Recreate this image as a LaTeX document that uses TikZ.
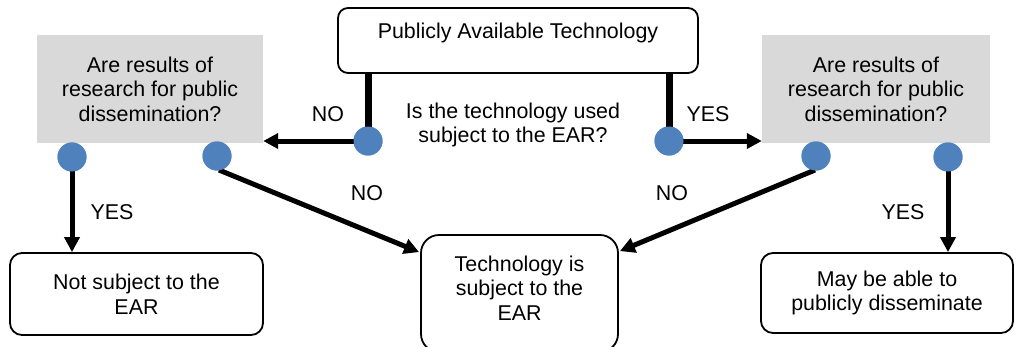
\documentclass[tikz,border=0pt]{standalone}
\usepackage{fontspec}
\setmainfont{Liberation Sans}
\usetikzlibrary{arrows.meta,calc}
\definecolor{dotblue}{HTML}{4F81BD}
\definecolor{qgray}{HTML}{D9D9D9}
\tikzset{
  txt/.style={align=center,inner sep=0pt,font=\fontsize{21.4}{24.5}\selectfont},
  outbox/.style={draw=black,line width=1.8pt,fill=white,rounded corners=#1,inner sep=0pt},
  outbox/.default=12pt,
  qbox/.style={fill=qgray,draw=none,inner sep=0pt,txt},
  dot/.style={circle,fill=dotblue,draw=none,minimum size=29pt,inner sep=0pt},
  stem/.style={line width=7pt},
  arr/.style={line width=5pt,-{Triangle[length=15pt,width=15pt]}},
}
\begin{document}
\begin{tikzpicture}[x=1pt,y=-1pt]
\useasboundingbox (0,0) rectangle (1026,346);
\clip (0,0) rectangle (1026,346);

% top question box
\node[outbox=10pt,minimum width=360pt,minimum height=65pt] (top) at (518,40.5) {};
\node[txt] (topT) at (518,33) {Publicly Available Technology};
\node[txt] (ask) at (513,125) {Is the technology used\\subject to the EAR?};

% grey research questions
\node[qbox,minimum width=226pt,minimum height=108pt] (qL) at (150,89)
  {Are results of\\research for public\\dissemination?};
\node[qbox,minimum width=228pt,minimum height=108pt] (qR) at (876,89)
  {Are results of\\research for public\\dissemination?};

% outcome boxes
\node[outbox,minimum width=253pt,minimum height=82pt,txt] (bL) at (136.5,294)
  {Not subject to the\\EAR};
\node[outbox=18pt,minimum width=197pt,minimum height=117pt] (bM) at (519.5,293.5) {};
\node[txt] (bMT) at (519.5,288) {Technology is\\subject to the\\EAR};
\node[outbox,minimum width=252pt,minimum height=80pt,txt] (bR) at (887,293)
  {May be able to\\publicly disseminate};

% decision dots
\coordinate (cTLc) at (368,141);
\coordinate (cTRc) at (669,141);
\node[dot] (cTL) at (cTLc) {};
\node[dot] (cTR) at (cTRc) {};
\node[dot] (cL1) at (72,157) {};
\node[dot] (cL2) at (217,156) {};
\node[dot] (cR1) at (816,156) {};
\node[dot] (cR2) at (948,157) {};

% connectors
\draw[stem] (cTL |- top.south) -- (cTL.center);
\draw[stem] (cTR |- top.south) -- (cTR.center);
\draw[arr] (cTL.center) -- (qL.east |- cTL);
\draw[arr] (cTR.center) -- (qR.west |- cTR);
\draw[arr] (cL1.center) -- (bL.north -| cL1);
\draw[arr] (cR2.center) -- (bR.north -| cR2);
\draw[arr] ($(cL2.center)+(2,14)$) -- ($(bM.north west)+(-1,18)$);
\draw[arr] ($(cR1.center)+(-1,14)$) -- ($(bM.north east)+(1,17)$);

% dots drawn again over the line ends
\node[dot] at (cTLc) {};
\node[dot] at (cTRc) {};
\node[dot] at (cL1) {};
\node[dot] at (cL2) {};
\node[dot] at (cR1) {};
\node[dot] at (cR2) {};

% branch labels
\node[txt] (n1) at (328,114) {NO};
\node[txt] (y1) at (708,114) {YES};
\node[txt] (y2) at (112,212) {YES};
\node[txt] (n2) at (367,193) {NO};
\node[txt] (n3) at (672,193) {NO};
\node[txt] (y3) at (903,212) {YES};
\end{tikzpicture}
\end{document}
